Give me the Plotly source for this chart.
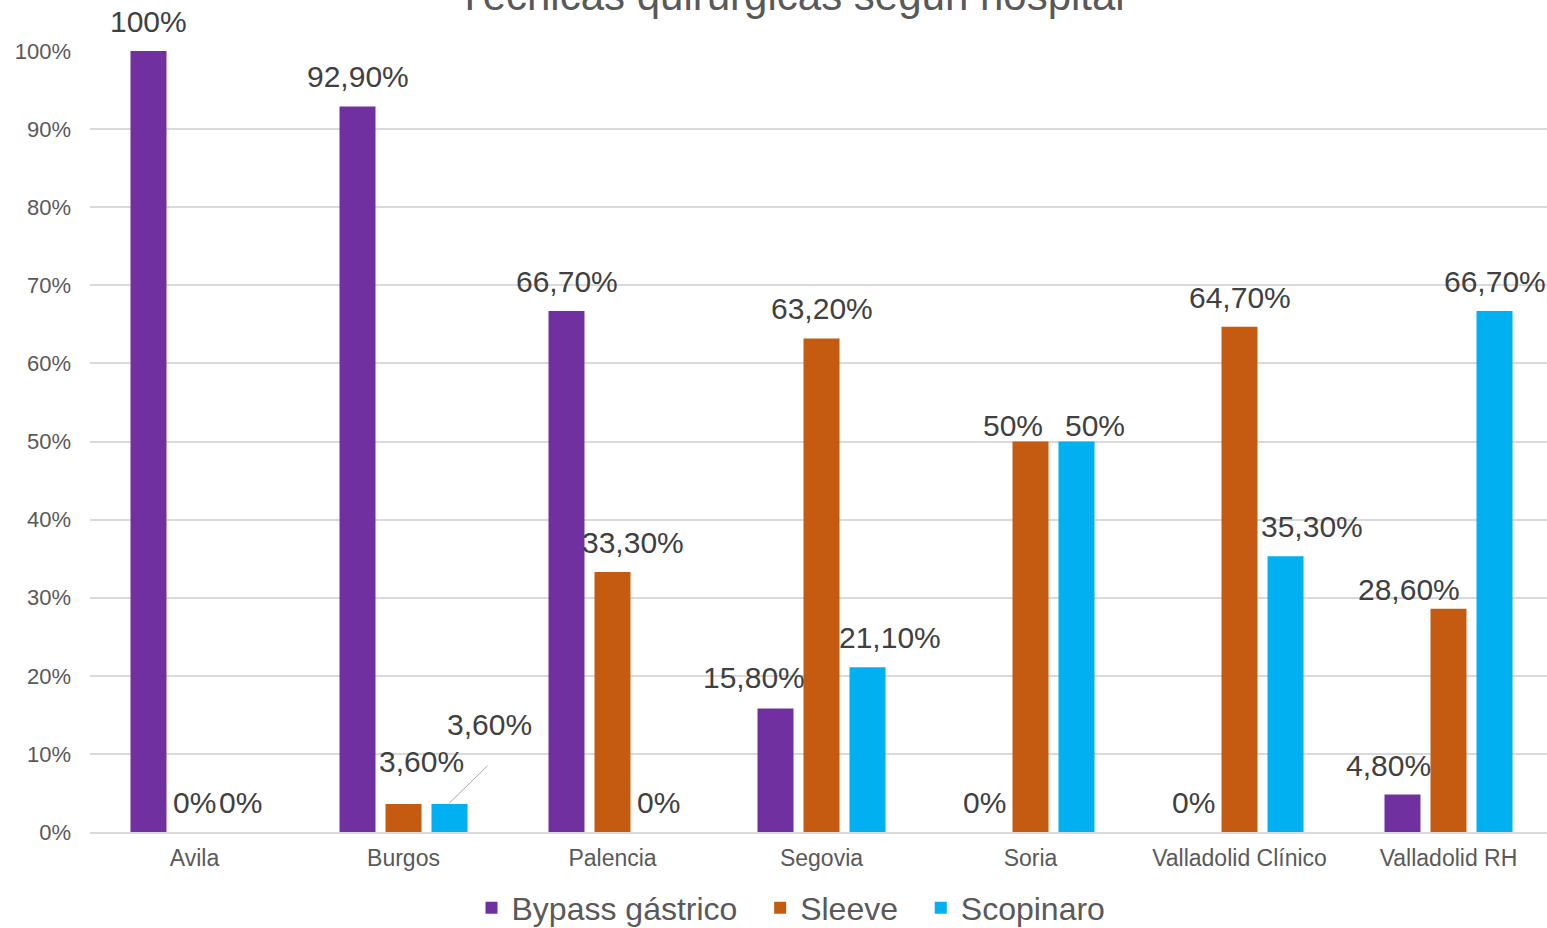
import plotly.graph_objects as go

hospitals = ["Avila", "Burgos", "Palencia", "Segovia", "Soria", "Valladolid Clínico", "Valladolid RH"]
series_names = ["Bypass gástrico", "Sleeve", "Scopinaro"]
bypass = [100, 92.9, 66.7, 15.8, 0, 0, 4.8]
sleeve = [0, 3.6, 33.3, 63.2, 50, 64.7, 28.6]
scopinaro = [0, 3.6, 0, 21.1, 50, 35.3, 66.7]
y_ticks = [0, 10, 20, 30, 40, 50, 60, 70, 80, 90, 100]
y_tick_labels = ["0%", "10%", "20%", "30%", "40%", "50%", "60%", "70%", "80%", "90%", "100%"]
title_text = "Técnicas quirúrgicas según hospital"

colors = ["#7030A0", "#C55A11", "#00B0F0"]

# label nudges (pixels) relative to default label position above each bar
label_dx = [
    [0, 0, 0, -22, 0, 0, -14],
    [0, 18, 20, 0, -18, 0, -40],
    [0, None, 0, 22, 18, 26, 0],
]
label_dy = [
    [0, 0, 0, 2, 0, 0, 0],
    [0, 13, 0, 0, -13, 0, -10],
    [0, 0, 0, 0, -13, 0, 0],
]

W, H = 1547, 928
ml, mr, mt, mb = 90, 0, 51, 96
plot_w = W - ml - mr
cat_w = 209.0
x_range = [-0.5, -0.5 + plot_w / cat_w]
slot = 46
bargap = 1 - 3 * slot / cat_w

def fmt(v):
    if abs(v - round(v)) < 1e-9:
        return f"{int(round(v))}%"
    return f"{v:.2f}".replace(".", ",") + "%"

fig = go.Figure()
all_series = [bypass, sleeve, scopinaro]
pad = "\u00a0\u00a0"
for name, vals, col in zip(series_names, all_series, colors):
    fig.add_trace(go.Bar(x=hospitals, y=vals, name=name + pad, marker=dict(color=col, line=dict(width=0)),
                         hoverinfo="skip"))

text_color = "#404040"
font_family = "Liberation Sans, Arial, sans-serif"
lab_size = 30
annotations = []
for si, vals in enumerate(all_series):
    offset = (si - 1) * slot
    for ci, v in enumerate(vals):
        dx = label_dx[si][ci]
        if dx is None:
            # leader-line label (Burgos Scopinaro)
            annotations.append(dict(x=hospitals[ci], y=v, xref="x", yref="y", text=fmt(v),
                                    showarrow=False, xshift=offset + 40, yanchor="bottom", yshift=61,
                                    font=dict(size=lab_size, color=text_color, family=font_family)))
            annotations.append(dict(x=hospitals[ci], y=v, xref="x", yref="y", text=" ",
                                    showarrow=True, arrowhead=0, arrowwidth=1, arrowcolor="#a6a6a6",
                                    ax=41, ay=-40, xshift=offset - 1, standoff=0,
                                    font=dict(size=2)))
            continue
        annotations.append(dict(x=hospitals[ci], y=v, xref="x", yref="y", text=fmt(v),
                                showarrow=False, xshift=offset + dx, yanchor="bottom",
                                yshift=11 + label_dy[si][ci],
                                font=dict(size=lab_size, color=text_color, family=font_family)))

annotations.append(dict(text=title_text, xref="paper", yref="paper", x=(791 - ml) / plot_w,
                        y=1, yshift=mt - 21, yanchor="bottom", xanchor="center", showarrow=False,
                        font=dict(size=42, color="#595959", family=font_family)))

fig.update_layout(
    width=W, height=H,
    margin=dict(l=ml, r=mr, t=mt, b=mb, pad=0, autoexpand=False),
    plot_bgcolor="white", paper_bgcolor="white",
    barmode="group", bargap=bargap, bargroupgap=10 / slot,
    font=dict(family=font_family, color="#595959"),
    showlegend=True,
    legend=dict(orientation="h", xref="paper", x=(800 - ml) / plot_w, xanchor="center",
                yref="container", y=(H - 908) / H, yanchor="middle",
                font=dict(size=32, color="#595959"), itemsizing="constant", tracegroupgap=0),
    annotations=annotations,
    xaxis=dict(range=x_range, showgrid=False, showline=True, linecolor="#d9d9d9", linewidth=1.5,
               tickfont=dict(size=23, color="#595959"), ticks="", ticklabelstandoff=5,
               automargin=False),
    yaxis=dict(range=[0, 100], tickvals=y_ticks, ticktext=y_tick_labels, showgrid=True,
               gridcolor="#d9d9d9", gridwidth=1.5, zeroline=False, showline=False,
               tickfont=dict(size=22, color="#595959"), ticks="", ticklabelstandoff=18,
               automargin=False),
)

fig.write_html("out.html", config={"displayModeBar": False},
               post_script="document.body.style.margin='0';")
